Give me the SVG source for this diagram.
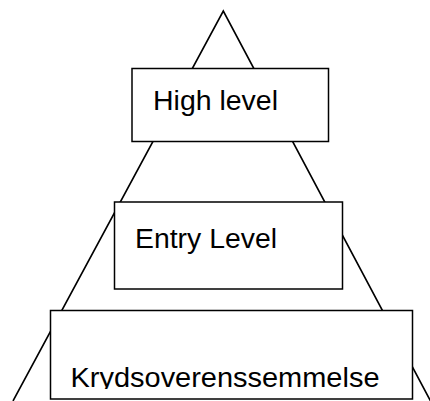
<svg xmlns="http://www.w3.org/2000/svg" width="430" height="401" viewBox="0 0 430 401">
<style>
.edge{fill:none;stroke:#000;stroke-width:1.6}
.box{fill:#fff;stroke:#000;stroke-width:1.5}
.lbl{font-family:"Liberation Sans",Arial,sans-serif;font-size:27px;fill:#000}
</style>
<defs>
<clipPath id="clipBottom"><rect x="51" y="311" width="361" height="78"/></clipPath>
</defs>
<g id="connectors">
<polyline class="edge" points="13,401 223.3,11 430.5,401"/>
</g>
<g id="high-level">
<rect class="box" x="132" y="68.5" width="196.5" height="73"/>
<text class="lbl" x="153" y="109.5" textLength="125" lengthAdjust="spacingAndGlyphs">High level</text>
</g>
<g id="entry-level">
<rect class="box" x="114.5" y="202" width="228" height="87"/>
<text class="lbl" x="135" y="248" textLength="142" lengthAdjust="spacingAndGlyphs">Entry Level</text>
</g>
<g id="krydsoverenssemmelse">
<rect class="box" x="50.5" y="310.5" width="362" height="88.5"/>
<text class="lbl" x="70.5" y="386.7" textLength="309" lengthAdjust="spacingAndGlyphs" clip-path="url(#clipBottom)">Krydsoverenssemmelse</text>
</g>
</svg>
